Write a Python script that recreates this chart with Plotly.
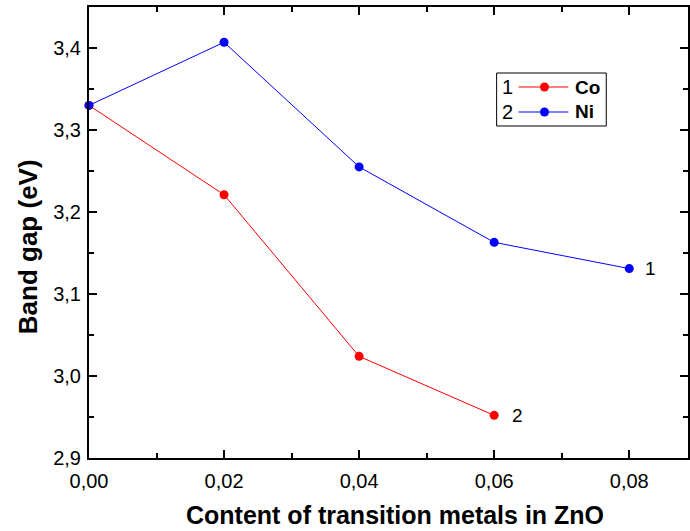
import plotly.graph_objects as go

x_co = [0.00, 0.02, 0.04, 0.06]
y_co = [3.330, 3.221, 3.024, 2.952]
x_ni = [0.00, 0.02, 0.04, 0.06, 0.08]
y_ni = [3.330, 3.407, 3.255, 3.163, 3.131]

RED = "#ff0000"
BLUE = "#0000ff"
FONT = "Liberation Sans, Arial, sans-serif"

fig = go.Figure()
fig.add_trace(go.Scatter(x=x_co, y=y_co, mode="lines+markers", name="Co",
                         line=dict(color=RED, width=1),
                         marker=dict(color=RED, size=9), cliponaxis=False))
fig.add_trace(go.Scatter(x=x_ni, y=y_ni, mode="lines+markers", name="Ni",
                         line=dict(color=BLUE, width=1),
                         marker=dict(color=BLUE, size=9), cliponaxis=False))

L, T, B = 89, 7, 458
R = 690
W = R - L
H = B - T

def px(x):
    return (x - L) / W

def py(y):
    return (B - y) / H

shapes = []
annotations = []
# legend box
shapes.append(dict(type="rect", xref="paper", yref="paper",
                   x0=px(498), x1=px(608), y0=py(126), y1=py(73),
                   line=dict(color="black", width=1), fillcolor="white"))
for num, name, col, yy in [("1", "Co", RED, 87), ("2", "Ni", BLUE, 112)]:
    shapes.append(dict(type="line", xref="paper", yref="paper",
                       x0=px(520), x1=px(570), y0=py(yy), y1=py(yy),
                       line=dict(color=col, width=1)))
    shapes.append(dict(type="circle", xref="paper", yref="paper",
                       x0=px(541.5), x1=px(550.5), y0=py(yy + 4.5), y1=py(yy - 4.5),
                       line=dict(color=col, width=0), fillcolor=col))
    annotations.append(dict(xref="paper", yref="paper", x=px(509), y=py(yy),
                            text=num, showarrow=False, xanchor="center", yanchor="middle",
                            font=dict(family=FONT, size=20, color="black")))
    annotations.append(dict(xref="paper", yref="paper", x=px(575), y=py(yy),
                            text="<b>" + name + "</b>", showarrow=False, xanchor="left",
                            yanchor="middle", font=dict(family=FONT, size=19, color="black")))

annotations.append(dict(x=x_ni[-1], y=y_ni[-1], text="1", showarrow=False,
                        xshift=21, xanchor="center", yanchor="middle",
                        font=dict(family=FONT, size=19, color="black")))
annotations.append(dict(x=x_co[-1], y=y_co[-1], text="2", showarrow=False,
                        xshift=23, xanchor="center", yanchor="middle",
                        font=dict(family=FONT, size=19, color="black")))

# axis titles
annotations.append(dict(xref="paper", yref="paper", x=px(396), y=py(515),
                        text="<b>Content of transition metals in ZnO</b>", showarrow=False,
                        xanchor="center", yanchor="middle",
                        font=dict(family=FONT, size=25, color="black")))
annotations.append(dict(xref="paper", yref="paper", x=px(28), y=py(247),
                        text="<b>Band gap (eV)</b>", showarrow=False, textangle=-90,
                        xanchor="center", yanchor="middle",
                        font=dict(family=FONT, size=26, color="black")))

axis_common = dict(showline=True, linecolor="black", linewidth=2, mirror="ticks",
                   ticks="inside", ticklen=8, tickwidth=1.5, tickcolor="black",
                   showgrid=False, zeroline=False,
                   tickfont=dict(family=FONT, size=20, color="black"))

fig.update_layout(
    width=690, height=531,
    margin=dict(l=L, r=690 - R, t=T, b=531 - B, pad=0),
    paper_bgcolor="white", plot_bgcolor="white",
    separators=", ",
    showlegend=False,
    shapes=shapes, annotations=annotations,
    xaxis=dict(range=[0, 0.0887], tickvals=[0, 0.02, 0.04, 0.06, 0.08],
               tickformat=".2f", ticklabelstandoff=4,
               minor=dict(tickvals=[0.01, 0.03, 0.05, 0.07], ticks="inside",
                          ticklen=5, tickwidth=1.5, tickcolor="black"),
               **axis_common),
    yaxis=dict(range=[2.9, 3.45], tickvals=[2.9, 3.0, 3.1, 3.2, 3.3, 3.4],
               tickformat=".1f", ticklabelstandoff=2,
               minor=dict(tickvals=[2.95, 3.05, 3.15, 3.25, 3.35, 3.45], ticks="inside",
                          ticklen=5, tickwidth=1.5, tickcolor="black"),
               **axis_common),
)

fig.write_html("out.html")
